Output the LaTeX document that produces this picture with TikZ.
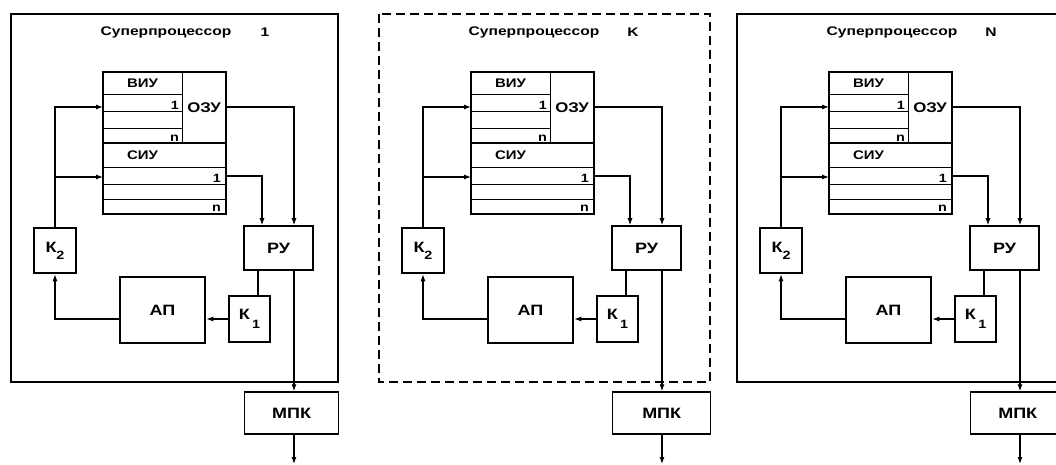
\documentclass[tikz,border=0pt]{standalone}
\usepackage{fontspec}
\usetikzlibrary{arrows.meta}
\setmainfont{Liberation Sans}[FakeStretch=1.2]
\newfontfamily\widefont{Liberation Sans}[FakeStretch=1.25]

\tikzset{
  frame/.style={line width=1.2pt},
  mem/.style={line width=2.4pt},
  row/.style={line width=0.8pt},
  conn/.style={line width=1.1pt},
  box/.style={draw, line width=1.6pt, inner sep=0pt, font=\fontsize{15}{15}\selectfont\bfseries},
  heavy/.style={box, line width=2.6pt},
  ttl/.style={font=\widefont\fontsize{12.5}{12.5}\selectfont\bfseries},
  lbl/.style={font=\fontsize{12.5}{12.5}\selectfont\bfseries},
  idx/.style={font=\fontsize{12}{12}\selectfont\bfseries, inner sep=1pt}
}

\begin{document}
\begin{tikzpicture}[x=1pt, y=-1pt, >={Latex[length=7pt,width=5pt]}]
  \useasboundingbox (0,0) rectangle (1056,465);
  \clip (0,0) rectangle (1056,465);
  % superprocessor frames
  \draw[frame] (11,14) rectangle (338,382);
  \draw[frame, dash pattern=on 9pt off 5pt] (379,14) rectangle (710,382);
  \draw[frame] (737,14) rectangle (1064,382);
  \foreach \ox/\i/\num/\mw in {11/a/1/94, 379/b/K/98, 737/c/N/94} {
  \begin{scope}[xshift=\ox pt]
    \node[ttl] (ttl\i) at (155,32) {Суперпроцессор};
    \node[ttl] (num\i) at (254,32) {\num};
    % memory block
    \draw[mem] (92,72) rectangle (215,214);
    \draw[row] (171,72) -- (171,143);
    \foreach \y in {94,111,128} \draw[row] (92,\y) -- (171,\y);
    \draw[mem] (92,143) -- (215,143);
    \foreach \y in {167,184,199} \draw[row] (92,\y) -- (215,\y);
    \node[lbl] (viu\i) at (131.5,83.5) {ВИУ};
    \node[lbl] (siu\i) at (131.5,155) {СИУ};
    \node[lbl, font=\fontsize{14}{14}\selectfont\bfseries] (ozu\i) at (193,107.5) {ОЗУ};
    \node[idx, anchor=south east] (va\i) at (169,111) {1};
    \node[idx, anchor=south east] (vn\i) at (169,143) {n};
    \node[idx, anchor=south east] (sa\i) at (211,184) {1};
    \node[idx, anchor=south east] (sn\i) at (211,213) {n};
    \coordinate (viuin\i) at (92,107);
    \coordinate (siuin\i) at (92,177);
    \coordinate (ozuout\i) at (215,107);
    \coordinate (siuout\i) at (215,176);
    % blocks
    \node[box, minimum width=69pt, minimum height=44pt] (ru\i) at (267.5,248) {РУ};
    \node[heavy, minimum width=41pt, minimum height=46pt] (ka\i) at (238.5,319)
      {К\,\raisebox{-1.1ex}{\fontsize{12}{12}\selectfont 1}};
    \node[heavy, minimum width=85pt, minimum height=66pt] (ap\i) at (151.5,310) {АП};
    \node[heavy, minimum width=42pt, minimum height=45pt] (kb\i) at (44,250.5)
      {К\raisebox{-0.9ex}{\fontsize{12}{12}\selectfont 2}};
    \node[box, line width=1.4pt, anchor=west, minimum width=\mw pt, minimum height=42pt] (mpk\i) at (233,413) {МПК};
    \coordinate (out\i) at (283,465);
    % connections
    \draw[conn, ->] (ozuout\i) -| ([xshift=15.5pt]ru\i.north);
    \draw[conn, ->] (siuout\i) -| ([xshift=-16.5pt]ru\i.north);
    \draw[conn] ([xshift=-20.5pt]ru\i.south) -- ([xshift=-20.5pt]ru\i.south |- ka\i.north);
    \draw[conn, ->] (ka\i.west) -- (ka\i.west -| ap\i.east);
    \draw[conn, ->] (ka\i.west -| ap\i.west) -| (kb\i.south);
    \draw[conn, ->] (kb\i.north) |- (viuin\i);
    \draw[conn, ->] (kb\i.north |- siuin\i) -- (siuin\i);
    \draw[conn, ->] ([xshift=15.5pt]ru\i.south) -- ([xshift=15.5pt]ru\i.south |- mpk\i.north);
    \draw[conn, ->] (mpk\i.south -| out\i) -- ([yshift=1pt]out\i);
  \end{scope}}
\end{tikzpicture}
\end{document}
